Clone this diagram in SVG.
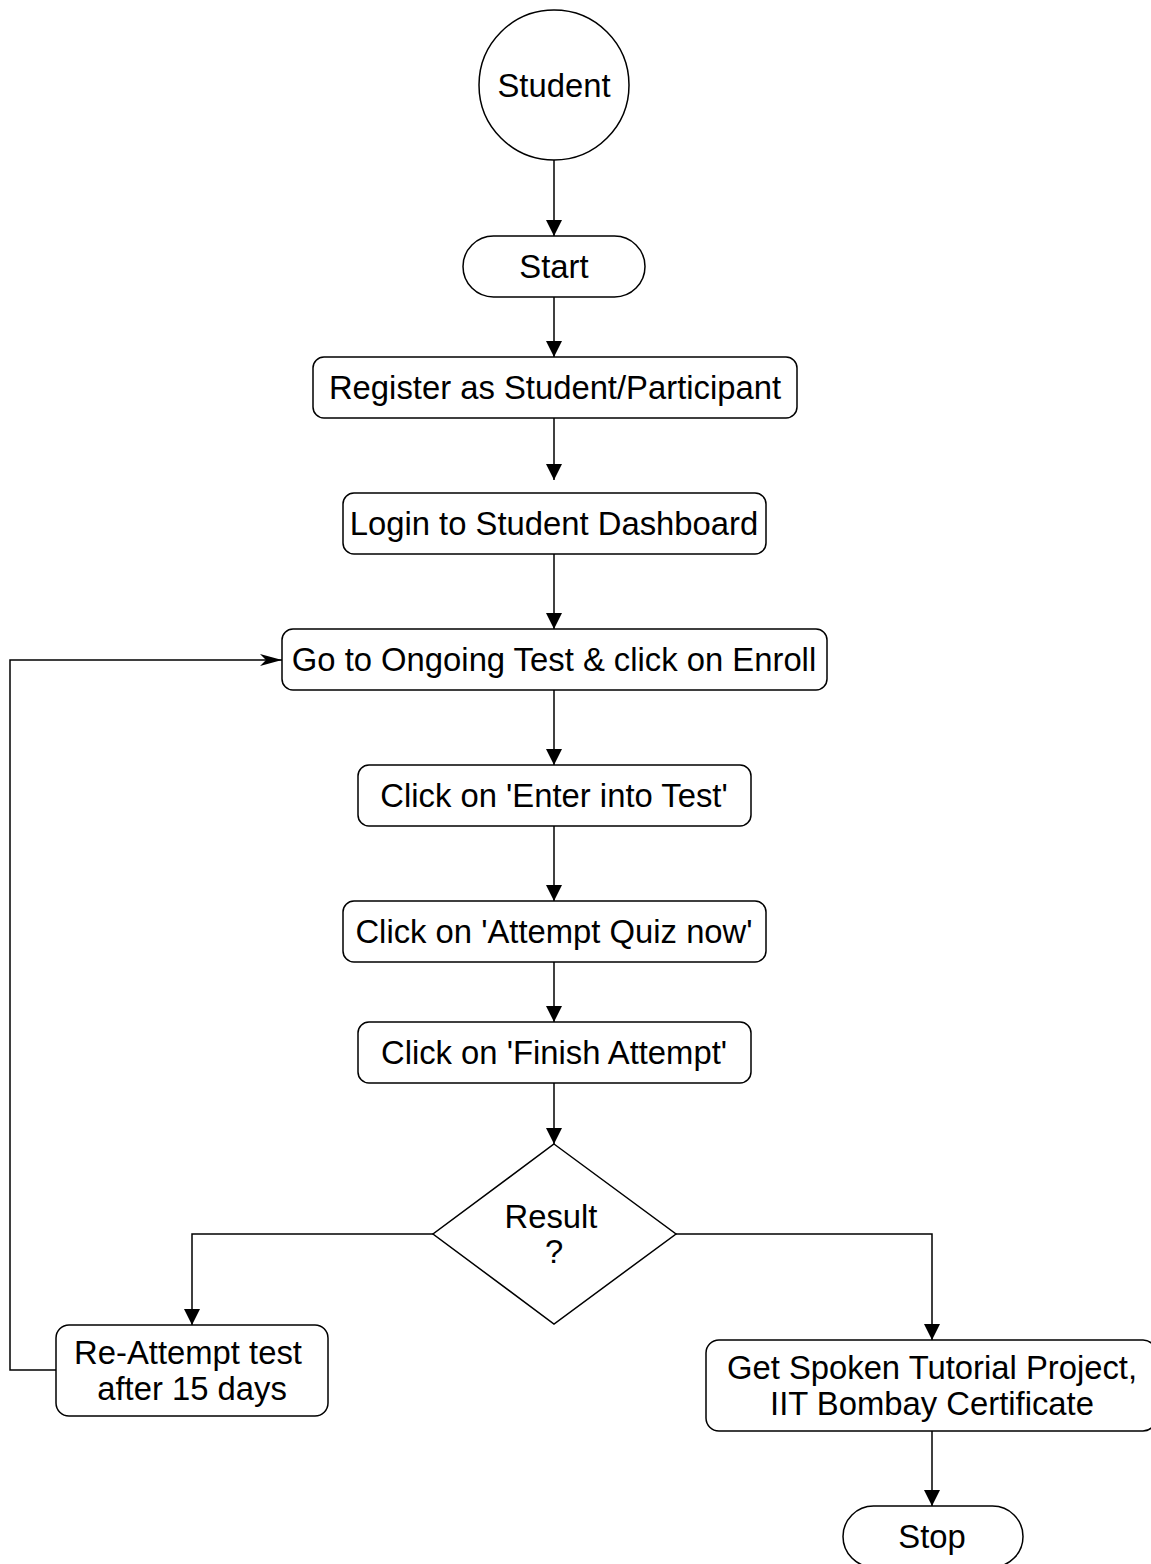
<svg xmlns="http://www.w3.org/2000/svg" width="1151" height="1564" viewBox="0 0 1151 1564">
<style>
.s{fill:#fff;stroke:#000;stroke-width:1.5}
.t{font-family:"Liberation Sans",Arial,sans-serif;font-size:32.8px;fill:#000;text-anchor:middle;dominant-baseline:central}
.c{fill:none;stroke:#000;stroke-width:1.5}
</style>
<defs>
<marker id="a" markerUnits="userSpaceOnUse" markerWidth="16" markerHeight="20" refX="16" refY="8" orient="auto">
<path d="M0,0 L16,8 L0,16 Z" fill="#000"/>
</marker>
<marker id="o" markerUnits="userSpaceOnUse" markerWidth="24" markerHeight="14" refX="22" refY="7" orient="auto">
<path d="M0,1 L22,7 L0,13 L6,7 Z" fill="#000"/>
</marker>
</defs>
<rect width="1151" height="1564" fill="#fff"/>
<g id="connectors">
<path class="c" d="M554,160 V236" marker-end="url(#a)"/>
<path class="c" d="M554,297 V357" marker-end="url(#a)"/>
<path class="c" d="M554,418 V480" marker-end="url(#a)"/>
<path class="c" d="M554,554 V629" marker-end="url(#a)"/>
<path class="c" d="M554,690 V765" marker-end="url(#a)"/>
<path class="c" d="M554,826 V901" marker-end="url(#a)"/>
<path class="c" d="M554,962 V1022" marker-end="url(#a)"/>
<path class="c" d="M554,1083 V1144" marker-end="url(#a)"/>
<path class="c" d="M433,1234 H192 V1325" marker-end="url(#a)"/>
<path class="c" d="M676,1234 H932 V1340" marker-end="url(#a)"/>
<path class="c" d="M932,1431 V1506" marker-end="url(#a)"/>
<path class="c" d="M56,1370 H10 V660 H282" marker-end="url(#o)"/>
</g>
<g id="student"><circle class="s" cx="554" cy="85" r="75"/><text class="t" x="554" y="85">Student</text></g>
<g id="start"><rect class="s" x="463" y="236" width="182" height="61" rx="30.5"/><text class="t" x="554" y="266">Start</text></g>
<g id="register"><rect class="s" x="313" y="357" width="484" height="61" rx="11"/><text class="t" x="555" y="387">Register as Student/Participant</text></g>
<g id="login"><rect class="s" x="343" y="493" width="423" height="61" rx="11"/><text class="t" x="554" y="523">Login to Student Dashboard</text></g>
<g id="ongoing"><rect class="s" x="282" y="629" width="545" height="61" rx="11"/><text class="t" x="554" y="659">Go to Ongoing Test &amp; click on Enroll</text></g>
<g id="enter"><rect class="s" x="358" y="765" width="393" height="61" rx="11"/><text class="t" x="554" y="795">Click on 'Enter into Test'</text></g>
<g id="attempt"><rect class="s" x="343" y="901" width="423" height="61" rx="11"/><text class="t" x="554" y="931">Click on 'Attempt Quiz now'</text></g>
<g id="finish"><rect class="s" x="358" y="1022" width="393" height="61" rx="11"/><text class="t" x="554" y="1052">Click on 'Finish Attempt'</text></g>
<g id="result"><path class="s" d="M554,1144 L676,1234 L554,1324 L433,1234 Z"/><text class="t" x="551" y="1216">Result</text><text class="t" x="554" y="1251">?</text></g>
<g id="reattempt"><rect class="s" x="56" y="1325" width="272" height="91" rx="13"/><text class="t" x="188" y="1352">Re-Attempt test</text><text class="t" x="192" y="1388">after 15 days</text></g>
<g id="certificate"><rect class="s" x="706" y="1340" width="450" height="91" rx="13"/><text class="t" x="932" y="1367">Get Spoken Tutorial Project,</text><text class="t" x="932" y="1403">IIT Bombay Certificate</text></g>
<g id="stop"><rect class="s" x="843" y="1506" width="180" height="61" rx="30.5"/><text class="t" x="932" y="1536">Stop</text></g>
</svg>
